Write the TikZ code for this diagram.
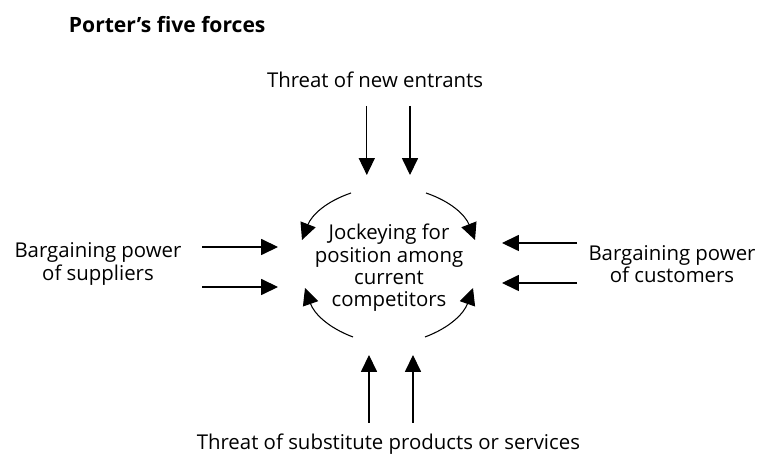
\documentclass[tikz,border=0pt]{standalone}
\usepackage{fontspec}
\setmainfont{Open Sans}
\usetikzlibrary{arrows.meta}
\usetikzlibrary{positioning}

\begin{document}
\begin{tikzpicture}[
		forcearrow/.style={-{Triangle[length=0.42cm,width=0.4cm]},line width=0.75pt},
		forcetext/.style={font=\fontsize{14.5}{15.8}\selectfont,align=center,inner sep=0pt}]
		\useasboundingbox (0,0) rectangle (19.05,11.375);
		% title
		\node[anchor=west,font=\fontsize{15}{16}\selectfont\bfseries] (title) at (1.6,10.75) {Porter's five forces};
		% centre
		\node[forcetext] (rivalry) at (9.725,4.68) {Jockeying for\\position among\\current\\competitors};
		% outer forces
		\node[forcetext] (entrants) at (9.375,9.375) {Threat of new entrants};
		\node[forcetext] (substitutes) at (9.71,0.275) {Threat of substitute products or services};
		\node[forcetext] (suppliers) at (2.45,4.775) {Bargaining power\\of suppliers};
		\node[forcetext] (customers) at (16.8,4.775) {Bargaining power\\of customers};
		% vertical arrows
		\foreach \x [count=\i] in {9.17,10.25} {
			\coordinate (ns\i) at (\x,8.725);
			\coordinate (ne\i) at (\x,7.0);
			\draw[forcearrow] (ns\i) -- (ne\i);
		}
		\foreach \x [count=\i] in {9.225,10.325} {
			\coordinate (ss\i) at (\x,0.8);
			\coordinate (se\i) at (\x,2.5);
			\draw[forcearrow] (ss\i) -- (se\i);
		}
		% horizontal arrows
		\foreach \y [count=\i] in {5.2,4.2} {
			\coordinate (ps\i) at (5.05,\y);
			\coordinate (pe\i) at (6.95,\y);
			\draw[forcearrow] (ps\i) -- (pe\i);
		}
		\foreach \y [count=\i] in {5.3,4.3} {
			\coordinate (cs\i) at (14.425,\y);
			\coordinate (ce\i) at (12.55,\y);
			\draw[forcearrow] (cs\i) -- (ce\i);
		}
		% rivalry arcs
		\coordinate (tl1) at (8.775,6.55);  \coordinate (tl2) at (7.55,5.375);
		\coordinate (tr1) at (10.65,6.55);  \coordinate (tr2) at (11.875,5.375);
		\coordinate (bl1) at (8.825,2.95);  \coordinate (bl2) at (7.625,4.175);
		\coordinate (br1) at (10.625,2.95); \coordinate (br2) at (11.825,4.175);
		\draw[forcearrow] (tl1) to[bend right=25] (tl2);
		\draw[forcearrow] (tr1) to[bend left=25] (tr2);
		\draw[forcearrow] (bl1) to[bend left=25] (bl2);
		\draw[forcearrow] (br1) to[bend right=25] (br2);
	\end{tikzpicture}
\end{document}
